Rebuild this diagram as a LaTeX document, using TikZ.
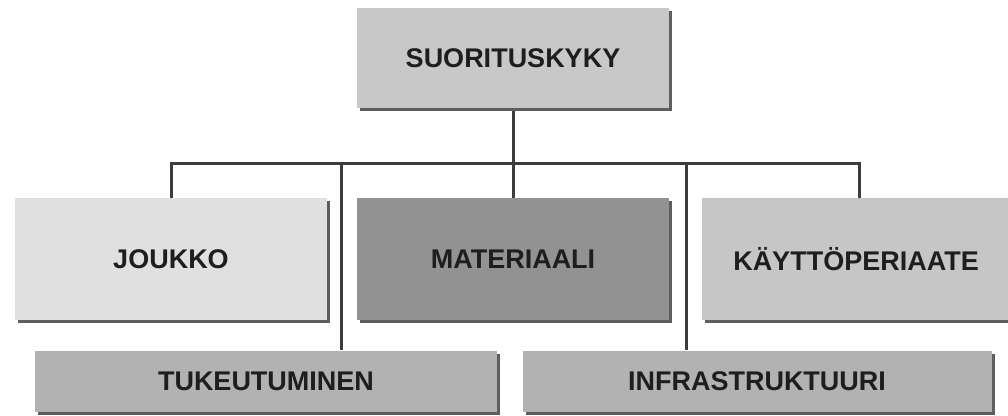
\documentclass[tikz,border=0pt]{standalone}
\usepackage{fontspec}
\setmainfont{Liberation Sans}
\usepackage{xcolor}
\definecolor{cTop}{HTML}{C8C8C8}
\definecolor{cLight}{HTML}{E0E0E0}
\definecolor{cDark}{HTML}{929292}
\definecolor{cMid}{HTML}{C6C6C6}
\definecolor{cBase}{HTML}{B2B2B2}
\definecolor{cShadow}{HTML}{5E5E5E}
\definecolor{cLine}{HTML}{3C3C3C}
\definecolor{cText}{HTML}{1E1E1E}
\usetikzlibrary{positioning,shadows,backgrounds}
\tikzset{
  node-box/.style={inner sep=0pt,align=center,text=cText,
    font=\fontsize{27}{32}\selectfont\bfseries,
    drop shadow={shadow xshift=3pt,shadow yshift=-3pt,fill=cShadow,opacity=1}},
  node-top/.style={fill=cTop,minimum width=312pt,minimum height=100pt},
  node-mid/.style={minimum width=312pt,minimum height=122pt},
  node-base/.style={fill=cBase,minimum height=61pt},
  link/.style={draw=cLine,line width=3pt},
}
\begin{document}
\begin{tikzpicture}[x=1pt,y=-1pt]
  \useasboundingbox (0,0) rectangle (1008,415);
  \node[node-box,node-top] (perf) at (513,58) {SUORITUSKYKY};
  \node[node-box,node-mid,fill=cLight] (troops) at (171,259) {JOUKKO};
  \node[node-box,node-mid,fill=cDark] (material) at (513,259) {MATERIAALI};
  \node[node-box,node-mid,fill=cMid,minimum width=308pt] (usage) at (856,259) {KÄYTTÖPERIAATE};
  \node[node-box,node-base,minimum width=462pt] (support) at (266,381) {TUKEUTUMINEN};
  \node[node-box,node-base,minimum width=469pt] (infra) at (757,381) {INFRASTRUKTUURI};
  % kytkentaviiva
  \coordinate (bus) at (513,163);
  \coordinate (bus-support) at (341,163);
  \coordinate (bus-infra) at (686,163);
  \begin{scope}[on background layer]
    \draw[link] (perf) -- (bus);
    \draw[link] (troops.north) -- (troops.north |- bus) -- ([xshift=3pt]usage.north |- bus) -- ([xshift=3pt]usage.north);
    \draw[link] (bus) -- (material.north);
    \draw[link] (bus-support) -- (bus-support |- support.north);
    \draw[link] (bus-infra) -- (bus-infra |- infra.north);
  \end{scope}
\end{tikzpicture}
\end{document}
